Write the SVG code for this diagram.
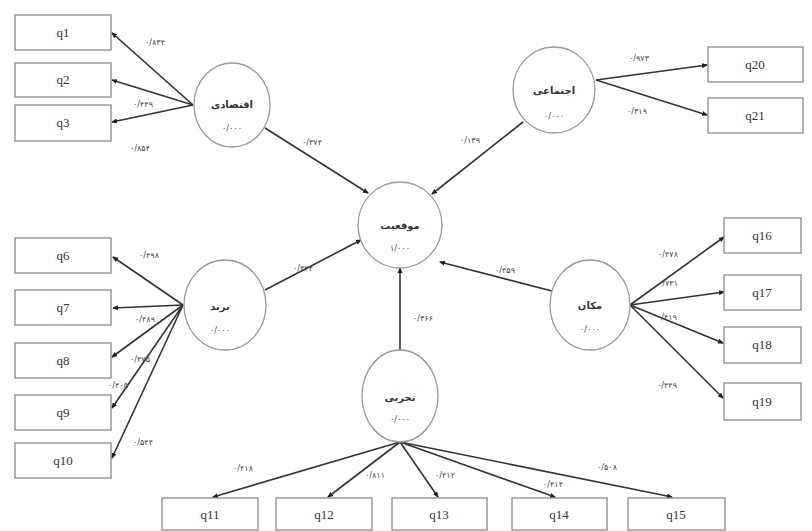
<svg xmlns="http://www.w3.org/2000/svg" width="812" height="531" viewBox="0 0 812 531">
<defs>
<marker id="ah" markerWidth="6" markerHeight="6" refX="5" refY="3" orient="auto" markerUnits="userSpaceOnUse">
<path d="M0,0.5 L6,3 L0,5.5 z" fill="#222"/>
</marker>
<style>
.box{fill:#fff;stroke:#8a8a8a;stroke-width:1.3}
.lv{fill:#fff;stroke:#9a9a9a;stroke-width:1.3}
.q{font-family:"Liberation Serif",serif;font-size:13px;fill:#333;text-anchor:middle}
.n{font-family:"DejaVu Sans","Noto Sans",sans-serif;font-size:10px;font-weight:bold;fill:#333;text-anchor:middle}
.v{font-family:"DejaVu Sans","Noto Sans",sans-serif;font-size:8px;fill:#444;text-anchor:middle}
.w{font-family:"DejaVu Sans","Noto Sans",sans-serif;font-size:8px;fill:#444;text-anchor:middle}
.c{stroke:#333;stroke-width:1.6;fill:none;marker-end:url(#ah)}
</style>
</defs>
<rect width="812" height="531" fill="#fff"/>
<g id="connectors">
<line class="c" x1="193" y1="105" x2="112" y2="33"/>
<line class="c" x1="193" y1="105" x2="112" y2="80"/>
<line class="c" x1="193" y1="105" x2="112" y2="122"/>
<line class="c" x1="265" y1="128" x2="368" y2="193"/>
<line class="c" x1="596" y1="80" x2="707" y2="65"/>
<line class="c" x1="596" y1="80" x2="707" y2="115"/>
<line class="c" x1="523" y1="122" x2="432" y2="194"/>
<line class="c" x1="183" y1="305" x2="113" y2="257"/>
<line class="c" x1="183" y1="305" x2="113" y2="308"/>
<line class="c" x1="183" y1="305" x2="112" y2="357"/>
<line class="c" x1="183" y1="305" x2="112" y2="408"/>
<line class="c" x1="183" y1="305" x2="112" y2="458"/>
<line class="c" x1="265" y1="290" x2="361" y2="240"/>
<line class="c" x1="630" y1="305" x2="724" y2="237"/>
<line class="c" x1="630" y1="305" x2="724" y2="292"/>
<line class="c" x1="630" y1="305" x2="723" y2="343"/>
<line class="c" x1="630" y1="305" x2="723" y2="398"/>
<line class="c" x1="552" y1="291" x2="440" y2="262"/>
<line class="c" x1="400" y1="350" x2="400" y2="268"/>
<line class="c" x1="400" y1="442" x2="213" y2="497"/>
<line class="c" x1="400" y1="442" x2="328" y2="497"/>
<line class="c" x1="400" y1="442" x2="438" y2="497"/>
<line class="c" x1="400" y1="442" x2="555" y2="497"/>
<line class="c" x1="400" y1="442" x2="672" y2="497"/>
<text class="w" x="155" y="45">۰/۸۳۴</text>
<text class="w" x="143" y="107">۰/۴۴۹</text>
<text class="w" x="140" y="151">۰/۸۵۴</text>
<text class="w" x="312" y="145">۰/۳۷۴</text>
<text class="w" x="470" y="143">۰/۱۳۹</text>
<text class="w" x="639" y="61">۰/۹۷۳</text>
<text class="w" x="637" y="114">۰/۳۱۹</text>
<text class="w" x="149" y="258">۰/۴۹۸</text>
<text class="w" x="145" y="322">۰/۴۸۹</text>
<text class="w" x="140" y="362">۰/۴۷۵</text>
<text class="w" x="118" y="388">۰/۴۰۵</text>
<text class="w" x="143" y="445">۰/۵۴۴</text>
<text class="w" x="303" y="271">۰/۴۴۴</text>
<text class="w" x="505" y="273">۰/۴۵۹</text>
<text class="w" x="668" y="257">۰/۴۷۸</text>
<text class="w" x="668" y="286">۰/۷۳۱</text>
<text class="w" x="667" y="320">۰/۴۱۹</text>
<text class="w" x="667" y="388">۰/۴۴۹</text>
<text class="w" x="423" y="321">۰/۳۶۶</text>
<text class="w" x="243" y="471">۰/۴۱۸</text>
<text class="w" x="375" y="478">۰/۸۱۱</text>
<text class="w" x="445" y="478">۰/۴۱۲</text>
<text class="w" x="553" y="487">۰/۴۱۴</text>
<text class="w" x="607" y="470">۰/۵۰۸</text>
</g>
<g id="n-eqtesadi"><ellipse class="lv" cx="232" cy="105" rx="38" ry="42"/><text class="n" x="232" y="108">اقتصادی</text><text class="v" x="232" y="131">۰/۰۰۰</text></g>
<g id="n-mogheiat"><ellipse class="lv" cx="400" cy="225" rx="42" ry="43"/><text class="n" x="400" y="229">موقعیت</text><text class="v" x="400" y="251">۱/۰۰۰</text></g>
<g id="n-ejtemai"><ellipse class="lv" cx="554" cy="90" rx="41" ry="43"/><text class="n" x="554" y="94">اجتماعی</text><text class="v" x="554" y="119">۰/۰۰۰</text></g>
<g id="n-brand"><ellipse class="lv" cx="225" cy="305" rx="41" ry="45"/><text class="n" x="220" y="310">برند</text><text class="v" x="220" y="333">۰/۰۰۰</text></g>
<g id="n-makan"><ellipse class="lv" cx="590" cy="305" rx="40" ry="45"/><text class="n" x="590" y="309">مکان</text><text class="v" x="590" y="332">۰/۰۰۰</text></g>
<g id="n-tajrobi"><ellipse class="lv" cx="400" cy="396" rx="38" ry="46"/><text class="n" x="400" y="401">تجربی</text><text class="v" x="400" y="422">۰/۰۰۰</text></g>
<g id="q1"><rect class="box" x="15" y="15" width="96" height="35"/><text class="q" x="63" y="37">q1</text></g>
<g id="q2"><rect class="box" x="15" y="63" width="96" height="34"/><text class="q" x="63" y="84">q2</text></g>
<g id="q3"><rect class="box" x="15" y="105" width="96" height="36"/><text class="q" x="63" y="127">q3</text></g>
<g id="q6"><rect class="box" x="15" y="238" width="96" height="35"/><text class="q" x="63" y="260">q6</text></g>
<g id="q7"><rect class="box" x="15" y="290" width="96" height="35"/><text class="q" x="63" y="312">q7</text></g>
<g id="q8"><rect class="box" x="15" y="343" width="96" height="35"/><text class="q" x="63" y="365">q8</text></g>
<g id="q9"><rect class="box" x="15" y="395" width="96" height="35"/><text class="q" x="63" y="417">q9</text></g>
<g id="q10"><rect class="box" x="15" y="443" width="96" height="35"/><text class="q" x="63" y="465">q10</text></g>
<g id="q20"><rect class="box" x="708" y="47" width="95" height="35"/><text class="q" x="755" y="69">q20</text></g>
<g id="q21"><rect class="box" x="708" y="98" width="95" height="35"/><text class="q" x="755" y="120">q21</text></g>
<g id="q16"><rect class="box" x="724" y="218" width="77" height="35"/><text class="q" x="762" y="240">q16</text></g>
<g id="q17"><rect class="box" x="724" y="275" width="77" height="35"/><text class="q" x="762" y="297">q17</text></g>
<g id="q18"><rect class="box" x="724" y="327" width="77" height="36"/><text class="q" x="762" y="349">q18</text></g>
<g id="q19"><rect class="box" x="724" y="383" width="77" height="37"/><text class="q" x="762" y="406">q19</text></g>
<g id="q11"><rect class="box" x="162" y="498" width="96" height="32"/><text class="q" x="210" y="519">q11</text></g>
<g id="q12"><rect class="box" x="276" y="498" width="96" height="32"/><text class="q" x="324" y="519">q12</text></g>
<g id="q13"><rect class="box" x="392" y="498" width="95" height="32"/><text class="q" x="439" y="519">q13</text></g>
<g id="q14"><rect class="box" x="512" y="498" width="95" height="32"/><text class="q" x="559" y="519">q14</text></g>
<g id="q15"><rect class="box" x="628" y="498" width="97" height="32"/><text class="q" x="676" y="519">q15</text></g>
</svg>
